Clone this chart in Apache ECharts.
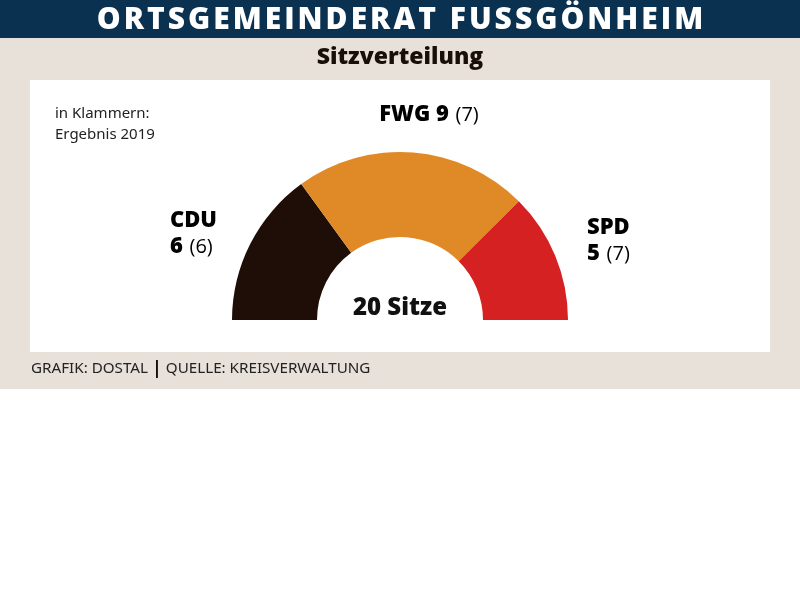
<!DOCTYPE html>
<html>
<head>
<meta charset="utf-8">
<script src="https://cdn.jsdelivr.net/npm/echarts@6/dist/echarts.min.js"></script>
<style>
  html, body { margin: 0; padding: 0; background: #fff; }
  #chart { width: 800px; height: 608px; }
</style>
</head>
<body>
<div id="chart"></div>
<script>
var parties = ['CDU', 'FWG', 'SPD'];
var seats = [6, 9, 5];
var seats2019 = [6, 7, 7];
var partyColors = ['#1e0e07', '#e08a27', '#d52121'];
var totalSeats = 20;

var myChart = echarts.init(document.getElementById('chart'));

var fontName = '"Open Sans", "Noto Sans", sans-serif';
var richStyles = {
    b: { fontFamily: fontName, fontWeight: 800, fontSize: 22, color: '#111', lineHeight: 26 },
    n: { fontFamily: fontName, fontSize: 20, color: '#222', lineHeight: 26 }
};

// Titel mit etwas Sperrung
var title = 'ORTSGEMEINDERAT FUSSGÖNHEIM'.split('').join('\u200A');

// Beschriftungen der Parteien
var partyLabels = [
    {
        type: 'text', right: 583, top: 210,
        style: {
            text: '{b|' + parties[0] + '}\n{b|' + seats[0] + '}  {n|(' + seats2019[0] + ')}',
            align: 'right', rich: richStyles
        }
    },
    {
        type: 'text', x: 429, y: 102,
        style: {
            text: '{b|' + parties[1] + ' ' + seats[1] + '}  {n|(' + seats2019[1] + ')}',
            align: 'center', rich: richStyles
        }
    },
    {
        type: 'text', left: 587, top: 217,
        style: {
            text: '{b|' + parties[2] + '}\n{b|' + seats[2] + '}  {n|(' + seats2019[2] + ')}',
            align: 'left', rich: richStyles
        }
    }
];

option = {
    backgroundColor: '#ffffff',
    animation: false,
    graphic: [
        { type: 'rect', shape: { x: 0, y: 0, width: 800, height: 38 }, style: { fill: '#0b3150' }, z: -10 },
        { type: 'rect', shape: { x: 0, y: 38, width: 800, height: 351 }, style: { fill: '#e7e1d9' }, z: -10 },
        { type: 'rect', shape: { x: 30, y: 80, width: 740, height: 272 }, style: { fill: '#ffffff' }, z: -9 },
        {
            type: 'text', x: 400, y: 5,
            style: {
                text: title, align: 'center',
                fontFamily: fontName, fontWeight: 800, fontSize: 30, fill: '#ffffff'
            }
        },
        {
            type: 'text', x: 400, y: 46,
            style: {
                text: 'Sitzverteilung', align: 'center',
                fontFamily: fontName, fontWeight: 800, fontSize: 23, fill: '#1a0f08'
            }
        },
        {
            type: 'text', x: 55, y: 103,
            style: {
                text: 'in Klammern:\nErgebnis 2019', lineHeight: 21,
                fontFamily: '"Noto Sans", sans-serif', fontSize: 15, fill: '#222'
            }
        },
        {
            type: 'text', x: 400, y: 296,
            style: {
                text: totalSeats + ' Sitze', align: 'center',
                fontFamily: fontName, fontWeight: 800, fontSize: 24, fill: '#111'
            }
        },
        {
            type: 'text', x: 31, y: 360,
            style: {
                text: 'GRAFIK: DOSTAL {bar||} QUELLE: KREISVERWALTUNG',
                fontFamily: '"Noto Sans", sans-serif', fontSize: 15.2, fill: '#222',
                rich: { bar: { fontFamily: '"Noto Sans", sans-serif', fontSize: 18, fontWeight: 'bold', fill: '#111' } }
            }
        }
    ].concat(partyLabels),
    series: [
        {
            type: 'pie',
            center: [400, 320],
            radius: [83, 168],
            startAngle: 180,
            endAngle: 0,
            clockwise: true,
            label: { show: false },
            labelLine: { show: false },
            silent: true,
            itemStyle: { borderWidth: 0 },
            data: parties.map(function (p, i) {
                return { name: p, value: seats[i], itemStyle: { color: partyColors[i] } };
            })
        }
    ]
};

myChart.setOption(option);
</script>
</body>
</html>
